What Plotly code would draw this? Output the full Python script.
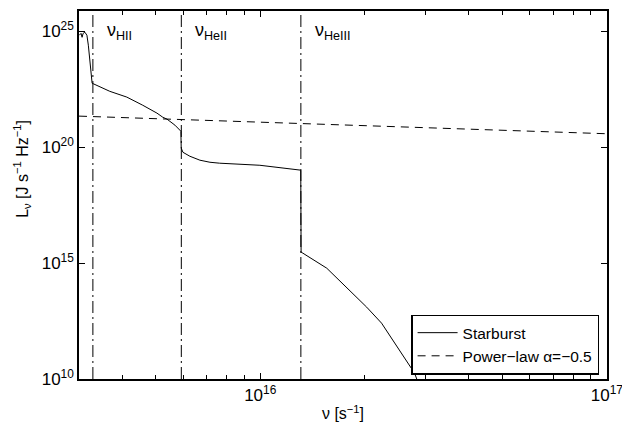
import math
import plotly.graph_objects as go

# Starburst spectrum (frequency in s^-1, luminosity in J s^-1 Hz^-1)
sb_nu = [3.006e15, 3.041e15, 3.062e15, 3.083e15, 3.119e15, 3.162e15, 3.192e15, 3.228e15,
         3.258e15, 3.273e15, 3.681e15, 4.121e15, 4.581e15, 5.035e15, 5.236e15, 5.383e15,
         5.675e15, 5.861e15, 5.902e15, 5.916e15, 5.984e15, 6.266e15, 6.699e15, 7.161e15,
         7.638e15, 9.977e15, 1.291e16, 1.309e16, 1.312e16, 1.327e16, 1.556e16, 1.811e16,
         2.028e16, 2.239e16, 2.489e16, 2.786e16, 2.844e16]
sb_L = [6.76e24, 8.13e24, 5.50e24, 8.13e24, 9.12e24, 6.76e24, 2.51e24, 4.57e23,
        9.33e22, 5.75e22, 2.57e22, 1.45e22, 6.46e21, 2.95e21, 1.95e21, 1.62e21,
        8.91e20, 5.37e20, 4.90e20, 9.12e19, 6.03e19, 4.07e19, 2.75e19, 2.24e19,
        2.04e19, 1.66e19, 1.12e19, 1.02e19, 2.95e15, 2.69e15, 6.03e14, 6.92e13,
        1.26e13, 2.57e12, 2.40e11, 1.82e10, 8.13e9]

# Power law alpha = -0.5
pl_nu = [3.0e15, 1.0e16, 3.0e16, 1.0e17]
pl_L = [2.19e21, 1.20e21, 6.9e20, 3.8e20]

# Ionisation edges
edge_nu = [3.29e15, 5.92e15, 1.31e16]
edge_labels = ["ν<sub>HII</sub>", "ν<sub>HeII</sub>", "ν<sub>HeIII</sub>"]

x_range = [3.0e15, 1.0e17]
y_range = [1e10, 7.5e25]

y_ticks = [1e10, 1e15, 1e20, 1e25]
y_ticktext = ["10<sup>10</sup>", "10<sup>15</sup>", "10<sup>20</sup>", "10<sup>25</sup>"]
x_ticks = [1e16, 1e17]
x_ticktext = ["10<sup>16</sup>", "10<sup>17</sup>"]
x_minor = [4e15, 5e15, 6e15, 7e15, 8e15, 9e15,
           2e16, 3e16, 4e16, 5e16, 6e16, 7e16, 8e16, 9e16]

FONT = "Liberation Sans, Arial, Helvetica, sans-serif"

fig = go.Figure()

for nu in edge_nu:
    fig.add_trace(go.Scatter(
        x=[nu, nu], y=y_range, mode="lines",
        line=dict(color="black", width=1, dash="12px,4px,2px,4px"),
        showlegend=False, hoverinfo="skip"))

fig.add_trace(go.Scatter(
    x=sb_nu, y=sb_L, mode="lines", name="Starburst",
    line=dict(color="black", width=1)))

fig.add_trace(go.Scatter(
    x=pl_nu, y=pl_L, mode="lines", name="Power−law α=−0.5",
    line=dict(color="black", width=1, dash="8px,6px")))

for nu, lab in zip(edge_nu, edge_labels):
    fig.add_annotation(x=math.log10(nu), xref="x", y=0.945, yref="paper",
                       text=lab, showarrow=False, xanchor="left", yanchor="middle",
                       xshift=12, font=dict(size=18, color="black", family=FONT))

fig.add_annotation(x=-0.108, xref="paper", y=0.571, yref="paper",
                   text="L<sub>ν</sub> [J s<sup>−1</sup> Hz<sup>−1</sup>]",
                   textangle=-90, showarrow=False, xanchor="center", yanchor="middle",
                   font=dict(size=16, color="black", family=FONT))

fig.update_layout(
    width=622, height=431,
    margin=dict(l=79, r=15, t=11, b=52, autoexpand=False),
    paper_bgcolor="white", plot_bgcolor="white",
    font=dict(family=FONT, size=16, color="black"),
    showlegend=True,
    legend=dict(x=0.985, y=0.012, xanchor="right", yanchor="bottom",
                bgcolor="white", bordercolor="black", borderwidth=1.5,
                font=dict(size=15.5, family=FONT), tracegroupgap=0,
                itemwidth=40),
    xaxis=dict(type="log", range=[math.log10(x_range[0]), 17.0005], automargin=False,
               tickvals=x_ticks, ticktext=x_ticktext, ticklabeloverflow="allow",
               ticks="inside", ticklen=6, tickwidth=1, tickcolor="black",
               minor=dict(tickvals=x_minor, ticks="inside", ticklen=4, tickcolor="black", showgrid=False),
               showline=True, linecolor="black", linewidth=1.5, mirror="allticks",
               showgrid=False, zeroline=False,
               tickfont=dict(size=17, family=FONT),
               title=dict(text="ν [s<sup>−1</sup>]", font=dict(size=16, family=FONT), standoff=4)),
    yaxis=dict(type="log", range=[10, 25.875], automargin=False,
               tickvals=y_ticks, ticktext=y_ticktext,
               ticks="inside", ticklen=6, tickwidth=1, tickcolor="black",
               showline=True, linecolor="black", linewidth=1.5, mirror="allticks",
               showgrid=False, zeroline=False,
               tickfont=dict(size=17, family=FONT)),
)

fig.write_html("out.html")
